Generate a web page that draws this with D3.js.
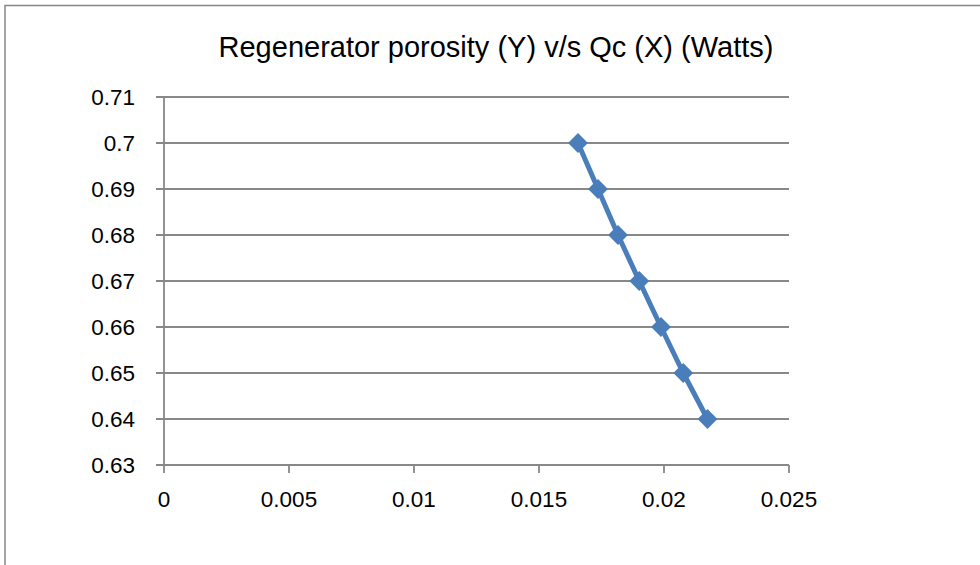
<!DOCTYPE html>
<html>
<meta charset="utf-8">
<script src="https://cdn.jsdelivr.net/npm/d3@7"></script>
<style>
body { margin: 0; background: #fff; }
text { font-family: "Liberation Sans", Arial, sans-serif; fill: #000; }
</style>
<body>
<svg id="chart" width="980" height="565"></svg>
</body>
<script>
// data
const qc = [0.01656, 0.01736, 0.01816, 0.01901, 0.01988, 0.02077, 0.02174];
const porosity = [0.70, 0.69, 0.68, 0.67, 0.66, 0.65, 0.64];
const xTicks = [0, 0.005, 0.01, 0.015, 0.02, 0.025];
const yTicks = [0.63, 0.64, 0.65, 0.66, 0.67, 0.68, 0.69, 0.70, 0.71];
const title = "Regenerator porosity (Y) v/s Qc (X) (Watts)";

const svg = d3.select("#chart");

// outer chart border (right and bottom fall outside the window)
svg.append("rect")
	.attr("x", 5).attr("y", 5.5)
	.attr("width", 1200).attr("height", 1200)
	.attr("fill", "none")
	.attr("stroke", "#868686")
	.attr("stroke-width", 1.5);

const x = d3.scaleLinear().domain([0, 0.025]).range([164, 789]);
const y = d3.scaleLinear().domain([0.63, 0.71]).range([465, 97]);
const gridColor = "#888888";
const lw = 1.8;

// horizontal gridlines (with the little tick stub left of the axis)
svg.append("g")
	.selectAll("line")
	.data(yTicks)
	.join("line")
	.attr("x1", x(0) - 8).attr("x2", x(0.025))
	.attr("y1", d => y(d)).attr("y2", d => y(d))
	.attr("stroke", gridColor)
	.attr("stroke-width", lw);

// y axis
svg.append("line")
	.attr("x1", x(0)).attr("x2", x(0))
	.attr("y1", y(0.71)).attr("y2", y(0.63))
	.attr("stroke", gridColor).attr("stroke-width", lw);

// x axis ticks
svg.append("g")
	.selectAll("line")
	.data(xTicks)
	.join("line")
	.attr("x1", d => x(d)).attr("x2", d => x(d))
	.attr("y1", y(0.63)).attr("y2", y(0.63) + 8)
	.attr("stroke", gridColor).attr("stroke-width", lw);

// tick labels
svg.append("g")
	.selectAll("text")
	.data(yTicks)
	.join("text")
	.attr("x", 135)
	.attr("y", d => y(d))
	.attr("dy", "0.36em")
	.attr("text-anchor", "end")
	.style("font-size", "22.5px")
	.text(d => String(+d.toFixed(2)));

svg.append("g")
	.selectAll("text")
	.data(xTicks)
	.join("text")
	.attr("x", d => x(d))
	.attr("y", 507)
	.attr("text-anchor", "middle")
	.style("font-size", "22.5px")
	.text(d => String(d));

// title
svg.append("text")
	.attr("x", 496)
	.attr("y", 57)
	.attr("text-anchor", "middle")
	.style("font-size", "29px")
	.text(title);

// series line + diamond markers
const pts = qc.map((d, i) => [d, porosity[i]]);
svg.append("path")
	.datum(pts)
	.attr("fill", "none")
	.attr("stroke", "#4a7ebb")
	.attr("stroke-width", 5)
	.attr("stroke-linejoin", "round")
	.attr("d", d3.line().x(d => x(d[0])).y(d => y(d[1])));

const s = 14;
svg.append("g")
	.selectAll("rect")
	.data(pts)
	.join("rect")
	.attr("x", -s / 2).attr("y", -s / 2)
	.attr("width", s).attr("height", s)
	.attr("fill", "#4a7ebb")
	.attr("transform", d => "translate(" + x(d[0]) + "," + y(d[1]) + ") rotate(45)");
</script>
</html>
